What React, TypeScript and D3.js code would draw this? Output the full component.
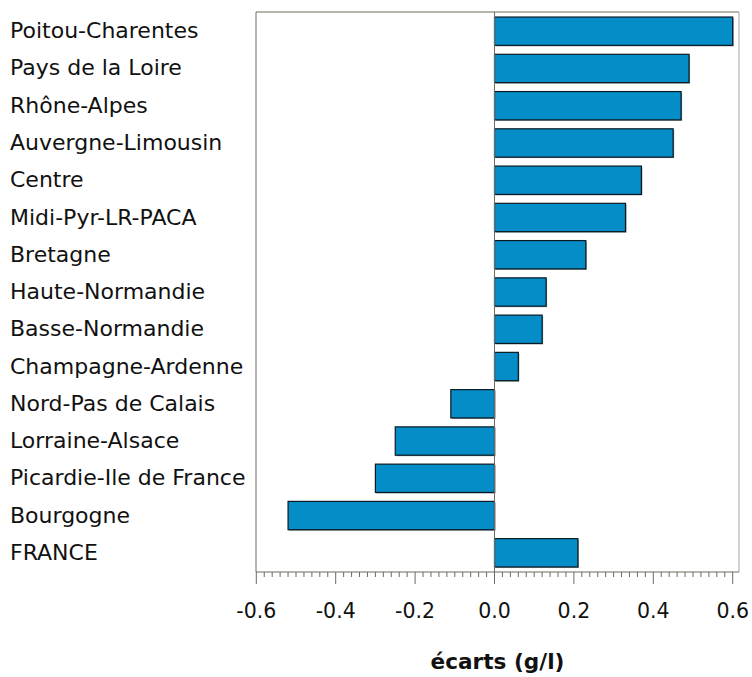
import * as d3 from "d3";

const regions = [
  "Poitou-Charentes",
  "Pays de la Loire",
  "Rhône-Alpes",
  "Auvergne-Limousin",
  "Centre",
  "Midi-Pyr-LR-PACA",
  "Bretagne",
  "Haute-Normandie",
  "Basse-Normandie",
  "Champagne-Ardenne",
  "Nord-Pas de Calais",
  "Lorraine-Alsace",
  "Picardie-Ile de France",
  "Bourgogne",
  "FRANCE",
];

const ecarts = [0.6, 0.49, 0.47, 0.45, 0.37, 0.33, 0.23, 0.13, 0.12, 0.06, -0.11, -0.25, -0.3, -0.52, 0.21];

const tickLabels = [-0.6, -0.4, -0.2, 0.0, 0.2, 0.4, 0.6];

const W = 752;
const H = 677;
const FONT = "'DejaVu Sans', sans-serif";

export default function App() {
  const top = 12;
  const bottom = 572;
  const left = 256;
  const right = 739;

  const x = d3.scaleLinear().domain([-0.6, 0.6]).range([256.3, 732.7]);
  const y = d3
    .scaleBand<string>()
    .domain(regions)
    .range([top, bottom])
    .paddingInner(0.24)
    .paddingOuter(0.135);

  const minor = x.ticks(60);
  const frame = "#6e6a60";

  return (
    <svg
      width={W}
      height={H}
      style={{ position: "absolute", left: 0, top: 0, background: "#fff" }}
      fontFamily={FONT}
    >
      {/* frame */}
      <line x1={left} x2={right} y1={top} y2={top} stroke={frame} />
      <line x1={left} x2={left} y1={top} y2={bottom} stroke={frame} />
      <line x1={right} x2={right} y1={top} y2={bottom} stroke="#a8a49c" />
      <line x1={left} x2={right} y1={bottom} y2={bottom} stroke={frame} />

      {/* bars */}
      {regions.map((r, i) => {
        const v = ecarts[i];
        const x0 = x(Math.min(0, v));
        const w = Math.abs(x(v) - x(0));
        return (
          <g key={r}>
            <rect
              x={x0 + 1}
              y={y(r)! + 1}
              width={w}
              height={y.bandwidth()}
              fill="#3a5560"
              opacity={0.6}
            />
            <rect
              x={x0}
              y={y(r)}
              width={w}
              height={y.bandwidth()}
              fill="#058dc7"
              stroke="#0a1a22"
              strokeWidth={1.2}
            />
          </g>
        );
      })}

      {/* zero line */}
      <line x1={x(0)} x2={x(0)} y1={top} y2={bottom} stroke={frame} />

      {/* category labels */}
      {regions.map((r) => (
        <text
          key={r}
          x={10}
          y={y(r)! + y.bandwidth() / 2}
          dy="0.32em"
          fontSize={22}
          fill="#111"
        >
          {r}
        </text>
      ))}

      {/* x axis ticks */}
      {minor.map((t, i) => {
        const major = Math.abs(Math.round(t * 5) - t * 5) < 1e-6;
        return (
          <line
            key={i}
            x1={x(t)}
            x2={x(t)}
            y1={bottom}
            y2={bottom + (major ? 12 : 5)}
            stroke={frame}
          />
        );
      })}
      {tickLabels.map((t) => (
        <text
          key={t}
          x={x(t)}
          y={618}
          textAnchor="middle"
          fontSize={20.5}
          fill="#111"
        >
          {d3.format(".1f")(t).replace("−", "-")}
        </text>
      ))}

      <text
        x={x(0) + 3}
        y={669}
        textAnchor="middle"
        fontSize={21.6}
        fontWeight="bold"
        fill="#111"
      >
        écarts (g/l)
      </text>
    </svg>
  );
}
